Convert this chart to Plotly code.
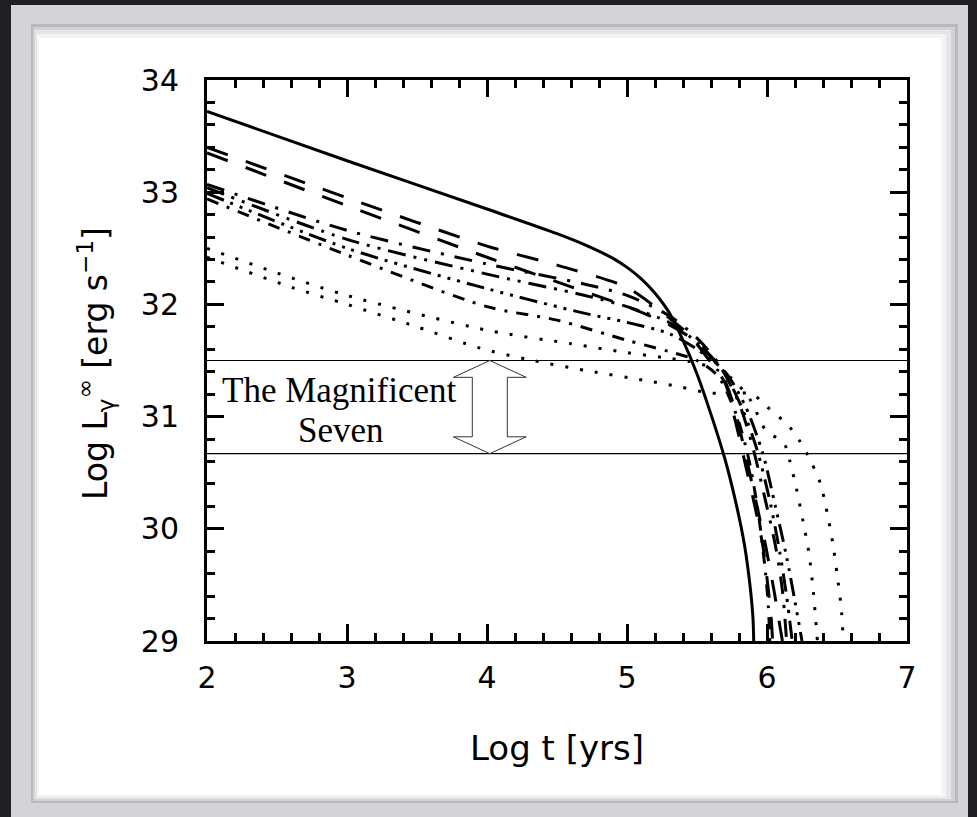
import plotly.graph_objects as go

# ---------------- data ----------------
solid_x = [2, 3, 4, 4.5, 4.7, 4.9, 5.0, 5.1, 5.2, 5.3, 5.4, 5.5, 5.6, 5.7, 5.78, 5.84, 5.88, 5.90, 5.905]
solid_y = [33.72, 33.28, 32.85, 32.63, 32.53, 32.41, 32.33, 32.23, 32.10, 31.93, 31.68, 31.38, 31.02, 30.62, 30.22, 29.85, 29.48, 29.20, 29.00]

longA_x = [2, 3, 4, 4.5, 5.0, 5.3, 5.45, 5.6, 5.7, 5.77, 5.85, 5.91, 5.97, 6.01, 6.03, 6.04]
longA_y = [33.40, 32.95, 32.52, 32.35, 32.15, 31.88, 31.72, 31.48, 31.30, 30.98, 30.55, 30.22, 29.85, 29.45, 29.20, 29.00]

longB_x = [2, 3, 4, 4.5, 5.0, 5.3, 5.5, 5.65, 5.75, 5.84, 5.92, 5.99, 6.05, 6.09, 6.11]
longB_y = [33.35, 32.88, 32.42, 32.20, 31.98, 31.82, 31.66, 31.45, 31.15, 30.70, 30.25, 29.85, 29.45, 29.15, 29.00]

dd1_x = [2, 3, 4, 4.7, 5.0, 5.3, 5.5, 5.65, 5.8, 5.9, 5.98, 6.06, 6.11, 6.14]
dd1_y = [33.07, 32.66, 32.36, 32.18, 32.08, 31.90, 31.70, 31.48, 31.12, 30.72, 30.30, 29.85, 29.45, 29.00]

dd2_x = [2, 3, 4, 4.7, 5.0, 5.3, 5.5, 5.68, 5.82, 5.93, 6.02, 6.09, 6.14, 6.18]
dd2_y = [33.04, 32.58, 32.27, 32.08, 31.98, 31.84, 31.66, 31.42, 31.08, 30.70, 30.25, 29.80, 29.40, 29.00]

dd3_x = [2, 3, 4, 4.7, 5.0, 5.3, 5.5, 5.7, 5.85, 5.97, 6.06, 6.14, 6.2, 6.25]
dd3_y = [32.99, 32.50, 32.14, 31.92, 31.84, 31.74, 31.60, 31.40, 31.08, 30.67, 30.20, 29.75, 29.35, 29.00]

dd4_x = [2, 3, 4, 4.5, 5.0, 5.3, 5.5, 5.65, 5.78, 5.87, 5.94, 5.99, 6.01, 6.02]
dd4_y = [32.94, 32.44, 31.98, 31.86, 31.68, 31.58, 31.50, 31.36, 31.02, 30.62, 30.12, 29.60, 29.30, 29.00]

dotA_x = [2, 2.5, 3, 4, 4.6, 5.0, 5.3, 5.45, 5.6, 5.75, 5.88, 5.99, 6.08, 6.13, 6.16, 6.21, 6.26, 6.30, 6.33, 6.36]
dotA_y = [32.50, 32.28, 32.08, 31.77, 31.65, 31.57, 31.52, 31.49, 31.44, 31.34, 31.15, 30.88, 30.80, 30.74, 30.62, 30.36, 30.05, 29.78, 29.45, 29.00]

dotB_x = [2, 2.61, 3, 3.5, 3.95, 4.29, 4.71, 5.14, 5.36, 5.59, 5.75, 5.9, 5.97, 6.11, 6.18, 6.24, 6.29, 6.38, 6.43, 6.47, 6.5, 6.53, 6.545]
dotB_y = [32.42, 32.15, 32.00, 31.80, 31.61, 31.51, 31.41, 31.32, 31.27, 31.21, 31.21, 31.20, 31.12, 30.97, 30.88, 30.77, 30.66, 30.41, 30.14, 29.87, 29.60, 29.30, 29.00]

band_levels = [31.5, 30.67]          # "Magnificent Seven" luminosity band
arrow_center_x = 4.02
x_ticks = [2, 3, 4, 5, 6, 7]
y_ticks = [29, 30, 31, 32, 33, 34]
x_title = "Log t [yrs]"
y_title = "Log L<sub>γ</sub><sup>∞</sup> [erg s<sup>−1</sup>]"
label_lines = ["The Magnificent", "Seven"]

curves = [
    (solid_x, solid_y, "solid"),
    (longA_x, longA_y, "22px,19px"),
    (longB_x, longB_y, "22px,19px"),
    (dd1_x, dd1_y, "18px,11px,3px,11px"),
    (dd2_x, dd2_y, "18px,8px,3px,8px,3px,8px"),
    (dd3_x, dd3_y, "18px,7px,3px,7px,3px,7px,3px,7px"),
    (dd4_x, dd4_y, "12px,9px,3px,9px"),
    (dotA_x, dotA_y, "3px,12px"),
    (dotB_x, dotB_y, "3px,12px"),
]

fig = go.Figure()
for xs, ys, dash in curves:
    fig.add_trace(go.Scatter(x=xs, y=ys, mode="lines",
                             line=dict(color="black", width=3, dash=dash,
                                       shape="spline", smoothing=0.8),
                             hoverinfo="skip", showlegend=False))

# ---------------- layout geometry ----------------
W, H = 977, 817
L, R, T, B = 207, 70, 80, 176
PW, PH = W - L - R, H - T - B


def px(xpix):
    return (xpix - L) / PW


def py(ypix):
    return (H - B - ypix) / PH


shapes = []
# outer light-gray frame
shapes.append(dict(type="rect", xref="paper", yref="paper", layer="below",
                   x0=px(11), x1=px(968), y0=py(5), y1=py(830),
                   fillcolor="#d4d4d8", line=dict(width=0)))
# inner white panel with soft inner shadow
for inset, col in [((0, 0, 0, 0), "#b9b9bd"), ((2, 3, 3, 2), "#d2d2d5"),
                   ((4, 6, 7, 4), "#e6e6e8"), ((6, 10, 12, 6), "#f4f4f5"),
                   ((8, 14, 17, 8), "#ffffff")]:
    l_, t_, r_, b_ = inset
    shapes.append(dict(type="rect", xref="paper", yref="paper", layer="below",
                       x0=px(31 + l_), x1=px(958 - r_), y0=py(24 + t_), y1=py(803 - b_),
                       fillcolor=col, line=dict(width=0)))

# horizontal band lines
for lv in band_levels:
    shapes.append(dict(type="line", xref="x", yref="y", x0=x_ticks[0], x1=x_ticks[-1],
                       y0=lv, y1=lv, line=dict(color="black", width=1.2)))

# hollow double-headed arrow between the band levels
top, bot = band_levels
head_h = 0.15
hw_head = 0.26
hw_shaft = 0.125
cx = arrow_center_x
pts = [
    (cx, top), (cx + hw_head, top - head_h), (cx + hw_shaft, top - head_h),
    (cx + hw_shaft, bot + head_h), (cx + hw_head, bot + head_h), (cx, bot),
    (cx - hw_head, bot + head_h), (cx - hw_shaft, bot + head_h),
    (cx - hw_shaft, top - head_h), (cx - hw_head, top - head_h),
]
path = "M " + " L ".join(f"{a},{b}" for a, b in pts) + " Z"
shapes.append(dict(type="path", xref="x", yref="y", path=path,
                   fillcolor="white", line=dict(color="#333333", width=1)))

annotations = [
    dict(text=label_lines[0], xref="paper", yref="paper", x=px(339), y=py(390),
         xanchor="center", yanchor="middle", showarrow=False,
         font=dict(family="Liberation Serif", size=35, color="black")),
    dict(text=label_lines[1], xref="paper", yref="paper", x=px(341), y=py(430),
         xanchor="center", yanchor="middle", showarrow=False,
         font=dict(family="Liberation Serif", size=35, color="black")),
    dict(text=x_title, xref="paper", yref="paper", x=px(557), y=py(748),
         xanchor="center", yanchor="middle", showarrow=False,
         font=dict(family="DejaVu Sans", size=34, color="black")),
    dict(text=y_title, xref="paper", yref="paper", x=px(95), y=py(364),
         xanchor="center", yanchor="middle", showarrow=False, textangle=-90,
         font=dict(family="DejaVu Sans", size=33, color="black")),
]

axis_common = dict(
    ticks="inside", ticklen=17, tickwidth=2.5, tickcolor="black",
    showline=True, linewidth=3, linecolor="black", mirror="allticks",
    showgrid=False, zeroline=False,
    tickfont=dict(family="DejaVu Sans", size=30, color="black"),
)

fig.update_xaxes(range=[x_ticks[0], x_ticks[-1]], tickmode="array", tickvals=x_ticks,
                 ticktext=[str(v) for v in x_ticks], ticklabelstandoff=8,
                 minor=dict(tick0=x_ticks[0], dtick=0.2, ticks="inside", ticklen=8,
                            tickwidth=2.5, tickcolor="black", showgrid=False),
                 **axis_common)
fig.update_yaxes(range=[y_ticks[0], y_ticks[-1]], tickmode="array", tickvals=y_ticks,
                 ticktext=[str(v) for v in y_ticks], ticklabelstandoff=19,
                 minor=dict(tick0=y_ticks[0], dtick=0.2, ticks="inside", ticklen=8,
                            tickwidth=2.5, tickcolor="black", showgrid=False),
                 **axis_common)

fig.update_layout(width=W, height=H, margin=dict(l=L, r=R, t=T, b=B, autoexpand=False),
                  paper_bgcolor="#202024", plot_bgcolor="rgba(0,0,0,0)",
                  shapes=shapes, annotations=annotations, showlegend=False)

fig.write_html("out.html")
